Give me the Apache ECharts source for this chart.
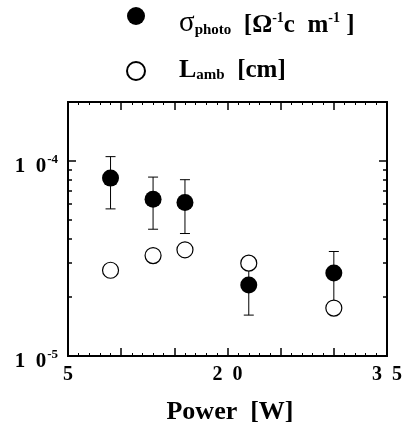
<!DOCTYPE html>
<html>
<head>
<meta charset="utf-8">
<script src="https://cdn.jsdelivr.net/npm/echarts@6/dist/echarts.min.js"></script>
<style>
    html,body{margin:0;padding:0;background:#fff;}
    #chart{width:407px;height:426px;}
</style>
</head>
<body>
<div id="chart"></div>
<script>
// 数据
var power = [9, 13, 16, 22, 30];
var sigmaPhoto = [8.15e-5, 6.36e-5, 6.11e-5, 2.31e-5, 2.66e-5];
var sigmaLow = [5.67e-5, 4.46e-5, 4.24e-5, 1.62e-5, 1.9e-5];
var sigmaHigh = [1.05e-4, 8.25e-5, 8.0e-5, 2.8e-5, 3.43e-5];
var lAmb = [2.75e-5, 3.27e-5, 3.5e-5, 2.99e-5, 1.76e-5];

var xTickLabels = [5, 20, 35];
var yTickLabels = [1e-5, 1e-4];
var yMinorTicks = [2e-5, 3e-5, 4e-5, 5e-5, 6e-5, 7e-5, 8e-5, 9e-5, 2e-4];

var serif = 'Liberation Serif';

function zip(a, b) {
    return a.map(function (v, i) { return [v, b[i]]; });
}

var errData = power.map(function (p, i) { return [p, sigmaLow[i], sigmaHigh[i]]; });

var chart = echarts.init(document.getElementById('chart'));

// 对数轴
function yAxisBase(pos, ticks, len, showLabel) {
    return {
        type: 'log',
        logBase: 10,
        min: 1e-5,
        max: 2e-4,
        position: pos,
        axisLine: {show: true, lineStyle: {color: '#000', width: 2}},
        axisTick: {show: true, inside: true, length: len, customValues: ticks, lineStyle: {color: '#000', width: 1.5}},
        splitLine: {show: false},
        axisLabel: {
            show: showLabel,
            customValues: yTickLabels,
            margin: 10,
            padding: [12, 0, 0, 0],
            formatter: function (v) {
                var e = Math.round(Math.log10(v));
                return '{b|1  0}{sup|' + e + '}';
            },
            rich: {
                b: {fontFamily: serif, fontWeight: 'bold', fontSize: 21, lineHeight: 21, color: '#000',
                    verticalAlign: 'bottom'},
                sup: {fontFamily: serif, fontWeight: 'bold', fontSize: 13, lineHeight: 13, color: '#000',
                    padding: [0, 0, 11, 1], verticalAlign: 'bottom'}
            }
        }
    };
}

function xAxisBase(pos, showLabel) {
    return {
        type: 'value',
        min: 5,
        max: 35,
        interval: 5,
        position: pos,
        axisLine: {show: true, lineStyle: {color: '#000', width: 2}},
        axisTick: {show: true, inside: true, length: 8, lineStyle: {color: '#000', width: 1.5}},
        minorTick: {show: true, splitNumber: 5, length: 3, lineStyle: {color: '#000', width: 1}},
        splitLine: {show: false},
        axisLabel: {
            show: showLabel,
            margin: 9,
            fontFamily: serif,
            fontWeight: 'bold',
            fontSize: 20,
            color: '#000',
            formatter: function (v) {
                return xTickLabels.indexOf(v) >= 0 ? String(v).split('').join('  ') : '';
            }
        }
    };
}

var xBottom = xAxisBase('bottom', true);
xBottom.name = 'Power  [W]';
xBottom.nameLocation = 'middle';
xBottom.nameGap = 43;
xBottom.nameTextStyle = {fontFamily: serif, fontWeight: 'bold', fontSize: 26, color: '#000', padding: [0, 0, 0, 5]};

var legendRich = {
    s: {fontFamily: serif, fontSize: 29, color: '#000', lineHeight: 30, verticalAlign: 'bottom'},
    L: {fontFamily: serif, fontWeight: 'bold', fontSize: 26, color: '#000', lineHeight: 30, verticalAlign: 'bottom'},
    b: {fontFamily: serif, fontWeight: 'bold', fontSize: 25, color: '#000', lineHeight: 30, verticalAlign: 'bottom'},
    sub: {fontFamily: serif, fontWeight: 'bold', fontSize: 15, color: '#000', lineHeight: 15, verticalAlign: 'bottom'},
    sup: {fontFamily: serif, fontWeight: 'bold', fontSize: 14, color: '#000', lineHeight: 14, verticalAlign: 'bottom', padding: [0, 0, 13, 0]}
};

var option = {
    animation: false,
    backgroundColor: '#fff',
    grid: {left: 68, right: 20, top: 102, bottom: 70, containLabel: false, outerBoundsMode: 'none'},
    legend: {
        orient: 'vertical',
        left: 126,
        top: 7,
        padding: 0,
        itemGap: 19,
        itemWidth: 18,
        itemHeight: 18,
        selectedMode: false,
        data: [
            {name: 'sigma', icon: 'circle', textStyle: {padding: [14, 0, 0, 29], rich: legendRich}},
            {name: 'lamb', icon: 'circle', textStyle: {padding: [0, 0, 6, 29], rich: legendRich}}
        ],
        formatter: function (name) {
            if (name === 'sigma') {
                return '{s|σ}{sub|photo}{b|  [Ω}{sup|-1}{b|c  m}{sup|-1}{b| ]}';
            }
            return '{L|L}{sub|amb}{b|  [cm]}';
        },
        textStyle: {rich: legendRich}
    },
    xAxis: [xBottom, xAxisBase('top', false)],
    yAxis: [
        yAxisBase('left', yTickLabels, 8, true),
        yAxisBase('left', yMinorTicks, 4, false),
        yAxisBase('right', yTickLabels, 8, false),
        yAxisBase('right', yMinorTicks, 4, false)
    ],
    series: [
        {
            name: 'err',
            type: 'custom',
            z: 1,
            silent: true,
            renderItem: function (params, api) {
                var x = api.value(0);
                var lo = api.coord([x, api.value(1)]);
                var hi = api.coord([x, api.value(2)]);
                var w = 5;
                var st = {stroke: '#000', lineWidth: 1};
                return {
                    type: 'group',
                    children: [
                        {type: 'line', shape: {x1: lo[0], y1: lo[1], x2: hi[0], y2: hi[1]}, style: st},
                        {type: 'line', shape: {x1: lo[0] - w, y1: lo[1], x2: lo[0] + w, y2: lo[1]}, style: st},
                        {type: 'line', shape: {x1: hi[0] - w, y1: hi[1], x2: hi[0] + w, y2: hi[1]}, style: st}
                    ]
                };
            },
            encode: {x: 0, y: [1, 2]},
            data: errData
        },
        {
            name: 'sigma',
            type: 'scatter',
            z: 2,
            symbol: 'circle',
            symbolSize: 17,
            itemStyle: {color: '#000', opacity: 1},
            data: zip(power, sigmaPhoto)
        },
        {
            name: 'lamb',
            type: 'scatter',
            z: 3,
            symbol: 'circle',
            symbolSize: 16,
            itemStyle: {color: '#fff', borderColor: '#000', borderWidth: 1.2, opacity: 1},
            data: zip(power, lAmb)
        }
    ]
};

chart.setOption(option);
</script>
</body>
</html>
